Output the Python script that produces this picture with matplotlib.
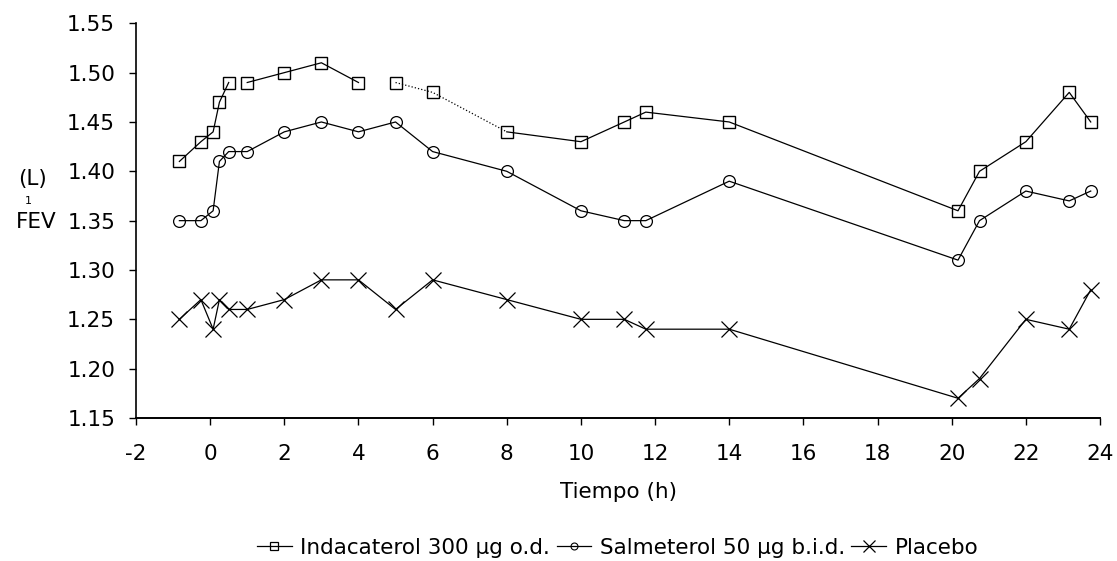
import matplotlib
matplotlib.use("Agg")
import matplotlib.pyplot as plt
from matplotlib.lines import Line2D
import numpy as np

# time points (h) shared by the three arms
tiempo = [-0.83, -0.25, 0.08, 0.25, 0.5, 1, 2, 3, 4, 5, 6, 8,
          10, 11.17, 11.75, 14, 20.17, 20.75, 22, 23.17, 23.75]

indacaterol = [1.41, 1.43, 1.44, 1.47, 1.49, 1.49, 1.50, 1.51, 1.49, 1.49, 1.48, 1.44,
               1.43, 1.45, 1.46, 1.45, 1.36, 1.40, 1.43, 1.48, 1.45]
salmeterol = [1.35, 1.35, 1.36, 1.41, 1.42, 1.42, 1.44, 1.45, 1.44, 1.45, 1.42, 1.40,
              1.36, 1.35, 1.35, 1.39, 1.31, 1.35, 1.38, 1.37, 1.38]
placebo = [1.25, 1.27, 1.24, 1.27, 1.26, 1.26, 1.27, 1.29, 1.29, 1.26, 1.29, 1.27,
           1.25, 1.25, 1.24, 1.24, 1.17, 1.19, 1.25, 1.24, 1.28]

labels = ["Indacaterol 300 \u00b5g o.d.", "Salmeterol 50 \u00b5g b.i.d.", "Placebo"]
xticks = list(range(-2, 25, 2))
yticks = [1.15, 1.20, 1.25, 1.30, 1.35, 1.40, 1.45, 1.50, 1.55]

plt.rcParams["font.family"] = "DejaVu Sans"
plt.rcParams["axes.unicode_minus"] = False

fig = plt.figure(figsize=(11.17, 5.61), dpi=100)
ax = fig.add_axes([136 / 1117, 1 - 418 / 561, (1100 - 136) / 1117, (418 - 23.3) / 561])

t = np.array(tiempo)
ind = np.array(indacaterol)

# indacaterol line is broken / dotted in places on the original scan
for a, b, ls in [(0, 5, "-"), (5, 9, "-"), (9, 12, ":"), (11, 21, "-")]:
    ax.plot(t[a:b], ind[a:b], color="black", lw=0.9, ls=ls)
ax.plot(t, ind, ls="none", marker="s", ms=8.5, mfc="none", mec="black", mew=1.0)

ax.plot(tiempo, salmeterol, color="black", lw=0.9, marker="o", ms=8.5,
        mfc="none", mec="black", mew=0.9)
ax.plot(tiempo, placebo, color="black", lw=0.9, marker="x", ms=12,
        mec="black", mew=0.9, clip_on=False)

ax.set_xlim(-2, 24)
ax.set_ylim(1.15, 1.55)
ax.set_xticks(xticks)
ax.set_yticks(yticks)
ax.set_yticklabels([f"{v:.2f}" for v in yticks])
ax.spines["top"].set_visible(False)
ax.spines["right"].set_visible(False)
ax.spines["left"].set_linewidth(1.2)
ax.spines["bottom"].set_linewidth(1.4)
ax.tick_params(axis="both", direction="out", length=5, width=1, labelsize=15.5)
ax.tick_params(axis="y", pad=10)
ax.tick_params(axis="x", pad=14)

ax.set_xlabel("Tiempo (h)", fontsize=15.5, labelpad=13)

# garbled y label of the scan: "(L)" above "FEV" with a small 1
fig.text(33 / 1117, 1 - 179 / 561, "(L)", fontsize=15.5, ha="center", va="center")
fig.text(36 / 1117, 1 - 222 / 561, "FEV", fontsize=15.5, ha="center", va="center")
fig.text(28 / 1117, 1 - 201 / 561, "1", fontsize=8, ha="center", va="center")

handles = [
    Line2D([], [], color="black", lw=0.9, marker="s", ms=6, mfc="none", mew=0.9),
    Line2D([], [], color="black", lw=0.9, marker="o", ms=5, mfc="none", mew=0.8),
    Line2D([], [], color="black", lw=0.9, marker="x", ms=9, mew=0.9),
]
fig.legend(handles, labels, loc="center", bbox_to_anchor=(0.553, 0.024), ncol=3,
           frameon=False, fontsize=15.5, handlelength=1.6, handletextpad=0.4,
           columnspacing=0.3)

plt.savefig("out.png", dpi=100)
